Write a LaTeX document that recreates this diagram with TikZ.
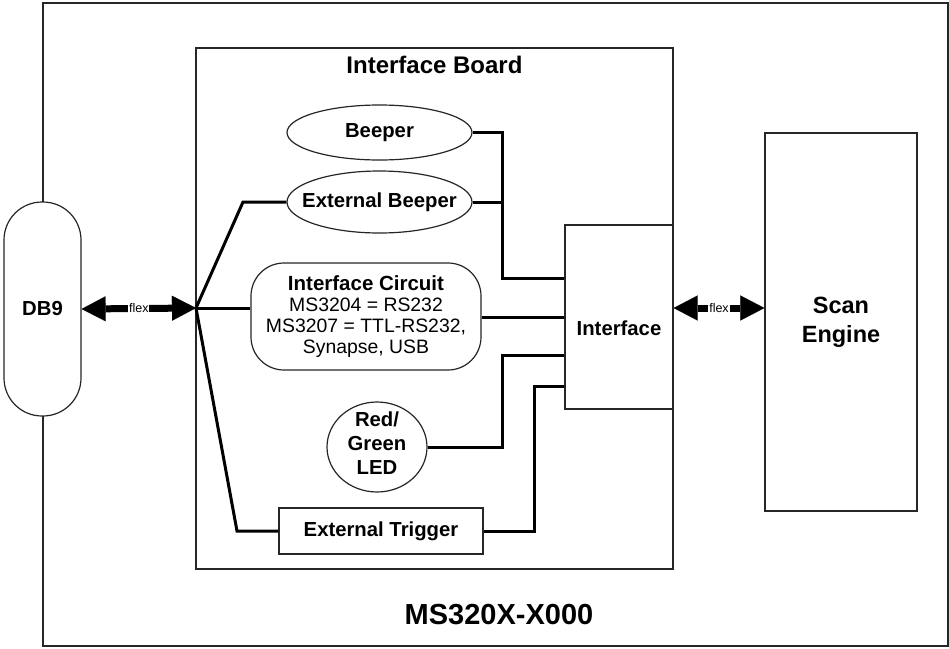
\documentclass[tikz,border=0pt]{standalone}
\usepackage{fontspec}
\setmainfont{Liberation Sans}
\usetikzlibrary{shapes.geometric,arrows.meta,calc}
\begin{document}
\begin{tikzpicture}[x=1pt,y=-1pt,
  thin/.style={draw=black!85,line width=1.2pt},
  conn/.style={draw=black,line width=3pt},
  bf/.style={font=\bfseries\fontsize{20.3}{24}\selectfont},
  ell/.style={thin,ellipse,fill=white,inner sep=0pt},
  flexarrow/.style={line width=7pt,{Triangle[length=24pt,width=25pt,line width=0.1pt]}-{Triangle[length=24pt,width=25pt,line width=0.1pt]}},
  flexlabel/.style={fill=white,inner sep=0.8pt,font=\fontsize{12.5}{14}\selectfont}
]
\useasboundingbox (0,0) rectangle (949,648);
% outer frame
\node[thin,minimum width=905,minimum height=643,inner sep=0pt] (frame) at (495.5,324.5) {};
% interface board
\node[thin,minimum width=477,minimum height=521,inner sep=0pt] (board) at (434.5,308.5) {};
\node[font=\bfseries\fontsize{24}{28}\selectfont] (boardtitle) at (434.5,65) {Interface Board};
% DB9
\node[thin,fill=white,rounded corners=38pt,minimum width=77,minimum height=214,inner sep=0pt,bf] (db9) at (42.5,309) {DB9};
\coordinate (fan) at (196,308);
% inner nodes
\node[ell,minimum width=185,minimum height=55,label={[bf]center:Beeper}] (beeper) at (379.5,132.5) {};
\node[ell,minimum width=185,minimum height=62,label={[bf]center:External Beeper}] (extb) at (379.5,202) {};
\node[thin,fill=white,rounded corners=33pt,minimum width=230,minimum height=107,inner sep=0pt,align=center,font=\fontsize{19.4}{21}\selectfont] (circ) at (366,316.5)
  {{\bfseries\fontsize{20.5}{21}\selectfont Interface Circuit}\\MS3204 = RS232\\MS3207 = TTL-RS232,\\Synapse, USB};
\node[ell,minimum width=100,minimum height=90,label={[font=\bfseries\fontsize{20.3}{24}\selectfont,align=center,yshift=4pt]center:Red/\\Green\\LED}] (led) at (377,447) {};
\node[thin,fill=white,minimum width=204,minimum height=46,inner sep=0pt,bf] (trig) at (381,531) {External Trigger};
\node[thin,fill=white,minimum width=108,minimum height=184,inner sep=0pt,label={[bf,yshift=-11pt]center:Interface}] (iface) at (619,317) {};
\node[thin,minimum width=152,minimum height=378,inner sep=0pt,align=center,font=\bfseries\fontsize{23.5}{29}\selectfont] (scan) at (841,322) {Scan\\Engine};
\node[font=\bfseries\fontsize{29}{34}\selectfont] (model) at (499,615) {MS320X-X000};
% fan-out connectors
\draw[conn] (fan) -- (243,202) -- (extb.west);
\draw[conn] (fan) -- (circ.west |- fan);
\draw[conn] (fan) -- (237,531) -- (trig.west);
% connectors to interface
\draw[conn] (beeper.east) -| (502,278) -- (iface.west |- 0,278);
\draw[conn] (extb.east) -- (502,202);
\draw[conn] (circ.east |- 0,317) -- (iface.west |- 0,317);
\draw[conn] (led.east) -| (502,355) -- (iface.west |- 0,355);
\draw[conn] (trig.east) -| (534,386) -- (iface.west |- 0,386);
% flex arrows
\draw[flexarrow] (db9.east) -- (fan) node[midway,flexlabel] {flex};
\draw[flexarrow] (iface.east |- fan) -- (scan.west |- fan) node[midway,flexlabel] {flex};
\end{tikzpicture}
\end{document}
